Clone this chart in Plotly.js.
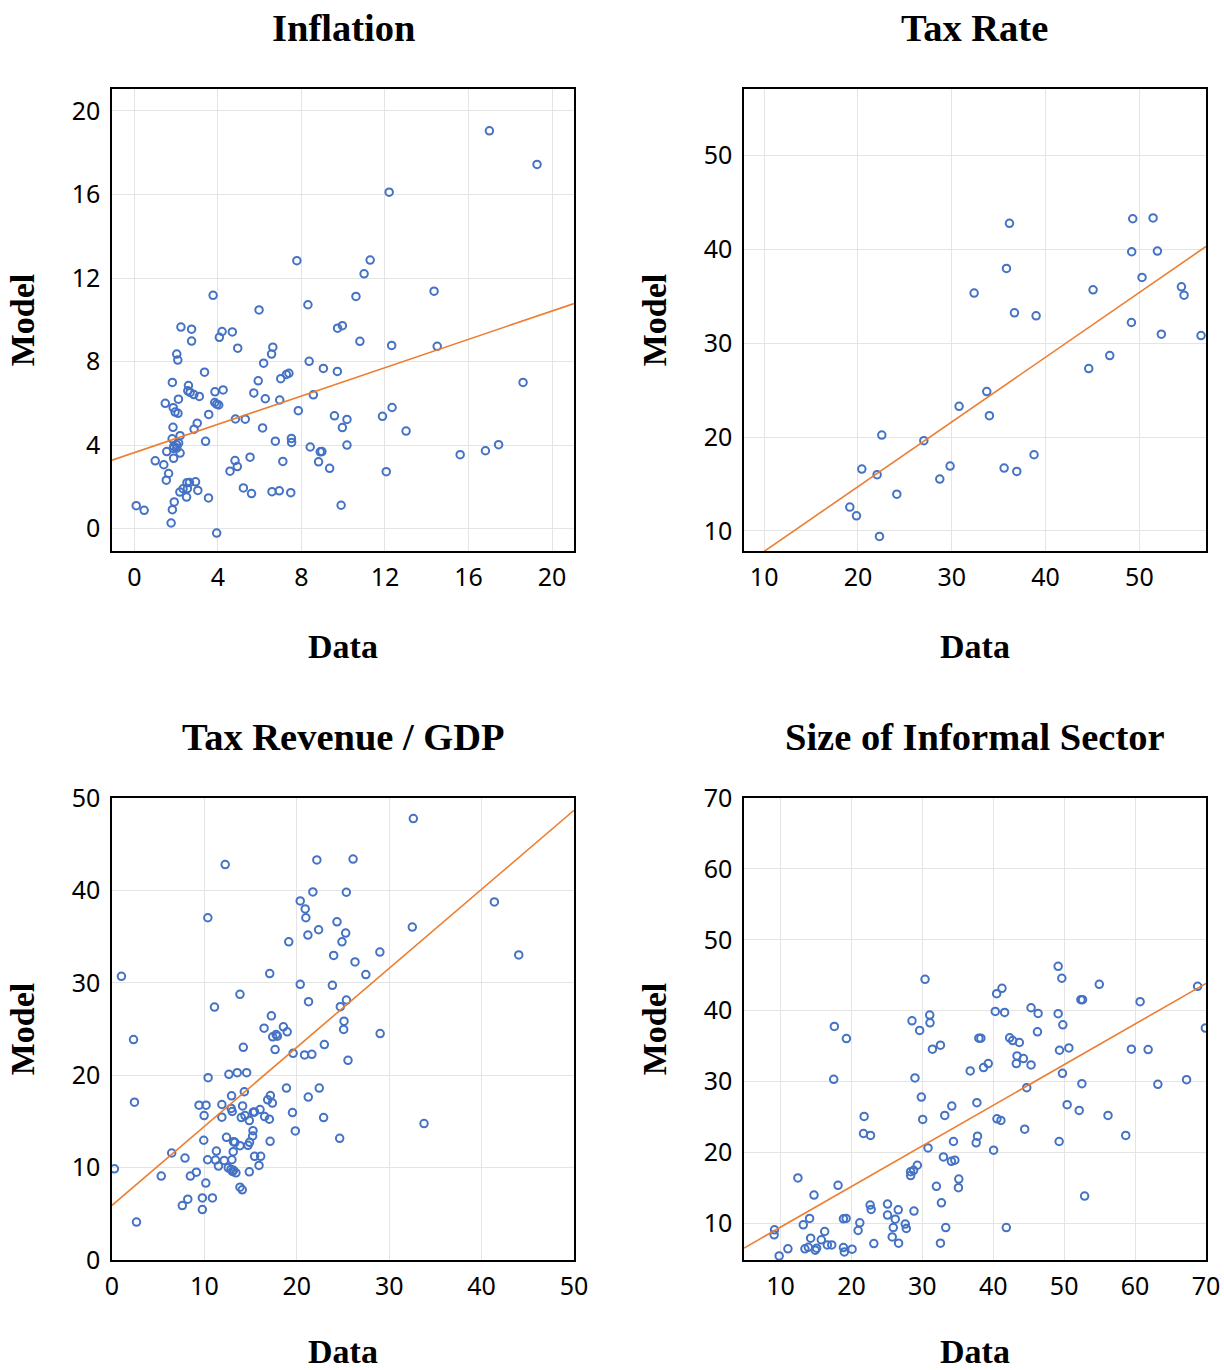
<!DOCTYPE html>
<html>
<head>
<meta charset="utf-8">
<script src="https://cdn.plot.ly/plotly-3.0.1.min.js"></script>
<style>html,body{margin:0;padding:0;background:#fff;}#chart{width:1224px;height:1370px;}</style>
</head>
<body>
<div id="chart"></div>
<script>
// ---------- DATA ----------
const panelTitles = ["Inflation", "Tax Rate", "Tax Revenue / GDP", "Size of Informal Sector"];
const xAxisTitle = "Data";
const yAxisTitle = "Model";

const inflationData = [0.09,0.47,1.0,1.41,1.48,1.53,1.55,1.64,1.76,1.82,1.91,1.82,1.86,1.95,2.09,1.85,1.81,1.89,2.02,2.12,1.88,2.19,2.19,1.87,2.03,2.03,2.08,2.23,2.11,2.59,2.56,2.67,2.85,3.11,2.74,2.74,3.36,2.86,3.01,3.41,3.56,3.86,4.25,3.85,3.94,4.04,4.07,4.20,4.69,4.95,3.77,5.97,4.84,5.31,4.82,4.93,4.58,5.54,5.22,5.61,3.55,2.52,2.64,2.93,3.04,2.33,2.18,2.50,2.54,5.72,5.93,6.19,6.57,6.63,6.27,6.14,6.96,7.01,7.28,7.40,6.75,7.52,7.53,7.11,6.59,6.94,7.49,7.78,8.31,7.85,8.37,8.57,9.05,9.72,8.42,8.90,8.98,8.82,9.35,9.58,9.73,9.96,9.96,10.18,10.18,9.90,10.80,10.61,11.0,11.29,12.20,11.88,12.34,12.32,13.01,12.06,14.35,14.50,15.60,16.81,17.44,17.0,19.28,18.61,3.94];
const inflationModel = [1.10,0.88,3.25,3.06,6.0,2.32,3.69,2.64,0.27,0.91,1.28,7.0,5.79,5.58,5.52,4.85,4.30,3.94,4.02,4.10,3.37,3.62,4.45,3.84,3.86,8.36,8.07,9.65,6.20,6.85,6.6,6.52,6.42,6.33,9.55,8.98,7.49,4.76,5.05,4.18,5.47,6.55,6.64,6.04,5.96,5.92,9.16,9.44,9.42,8.64,11.17,10.47,5.25,5.24,3.26,2.97,2.75,3.42,1.95,1.68,1.47,2.20,2.21,2.24,1.83,1.91,1.75,1.51,1.92,6.50,7.08,7.92,8.36,8.69,6.22,4.82,6.16,7.18,7.38,7.44,4.19,4.32,4.13,3.22,1.77,1.81,1.72,12.83,10.72,5.65,8.01,6.41,7.67,7.53,3.91,3.68,3.69,3.20,2.89,5.40,9.60,9.72,4.84,5.23,4.0,1.12,8.97,11.12,12.20,12.86,16.11,5.38,5.80,8.77,4.67,2.73,11.37,8.73,3.54,3.73,4.02,19.05,17.44,7.0,-0.21];

const taxRateData = [36.15,49.29,51.46,49.18,51.92,35.83,50.28,32.38,45.06,54.48,54.76,36.68,38.99,49.15,52.34,56.57,46.84,44.60,33.73,30.78,34.01,22.54,27.02,29.82,20.41,22.04,28.72,35.58,36.93,38.77,24.14,19.13,19.84,22.29];
const taxRateModel = [42.78,43.27,43.35,39.75,39.82,37.97,37.01,35.34,35.69,36.01,35.12,33.24,32.92,32.21,30.96,30.82,28.68,27.30,24.84,23.27,22.28,20.21,19.61,16.90,16.58,15.98,15.52,16.69,16.33,18.11,13.91,12.53,11.60,9.40];

const revenueData = [1.02,12.25,10.37,22.17,21.74,25.36,20.37,20.91,20.98,24.35,25.29,24.89,21.2,22.36,19.13,23.99,17.07,20.37,23.85,13.85,11.09,21.27,24.71,25.37,17.25,16.46,18.55,17.76,18.96,25.11,25.07,32.61,26.09,41.38,32.5,28.99,44.02,26.3,27.47,29.02,25.54,33.77,24.64,2.33,2.43,0.26,2.65,17.39,17.9,17.65,14.21,19.6,20.84,21.63,22.98,10.4,12.65,13.55,14.57,14.32,12.94,9.42,10.18,11.89,12.9,13.01,14.13,9.97,11.89,13.99,14.39,14.86,15.29,15.43,16.02,16.52,17.03,16.85,17.14,17.36,18.88,21.24,22.43,19.53,22.9,19.84,9.93,12.39,13.15,13.30,13.85,14.72,14.89,15.22,15.26,17.11,13.12,11.3,6.46,7.9,10.35,11.2,12.14,11.52,12.98,12.58,12.87,13.15,13.41,13.04,14.86,15.43,16.09,15.91,9.13,8.48,5.33,10.15,13.85,14.1,8.2,7.61,9.78,10.87,9.78];
const revenueModel = [30.7,42.8,37.04,43.3,39.84,39.8,38.86,37.99,37.04,36.6,35.38,34.43,35.16,35.74,34.43,32.96,31.0,29.84,29.73,28.75,27.37,27.96,27.41,28.13,26.43,25.09,25.24,24.40,24.7,25.85,24.95,47.77,43.39,38.75,36.03,33.32,33.02,32.26,30.89,24.5,21.61,14.76,13.17,23.86,17.08,9.87,4.11,24.15,24.22,22.77,23.02,22.37,22.19,22.26,23.32,19.73,20.09,20.27,20.27,18.21,17.77,16.76,16.76,16.83,16.4,16.07,16.68,15.63,15.46,15.41,15.63,15.09,16.0,16.03,16.28,15.52,15.24,17.34,17.8,16.98,18.61,17.63,18.61,15.96,15.41,13.97,12.96,13.28,12.80,12.74,12.37,12.41,12.74,13.42,14.0,12.85,11.72,11.79,11.58,11.03,10.85,10.82,10.78,10.16,10.85,9.98,9.8,9.7,9.43,9.59,9.54,11.22,11.22,10.24,9.51,9.08,9.08,8.32,7.88,7.59,6.58,5.89,6.72,6.72,5.46];

const informalData = [49.15,49.67,54.95,68.82,30.38,41.23,40.48,52.36,52.59,60.71,40.28,41.6,45.33,46.32,49.15,49.81,46.23,31.04,31.08,28.54,29.62,17.59,19.29,37.97,38.25,42.31,42.74,43.68,31.42,32.55,49.34,50.66,59.48,61.84,43.35,44.25,43.25,45.33,39.29,38.63,36.75,49.76,17.5,28.96,52.5,44.72,63.21,67.26,69.91,29.86,37.69,34.15,50.42,52.12,56.18,33.16,30.05,21.79,21.7,22.69,40.52,41.08,44.43,58.68,37.78,37.59,34.39,40.05,49.29,30.8,32.97,34.1,34.58,29.29,28.77,28.35,28.35,31.98,35.14,35.09,32.69,52.88,12.45,18.11,14.72,22.64,22.78,25.09,25.09,26.6,26.18,28.82,27.59,27.74,25.9,25.75,26.65,32.55,33.3,41.84,23.16,21.18,20.94,18.87,19.25,20.09,18.87,19.0,17.22,16.6,16.23,15.75,15.09,14.9,13.92,13.44,14.25,14.1,13.21,11.04,9.81,9.15,9.1];
const informalModel = [46.27,44.58,43.73,43.44,44.43,43.16,42.41,41.56,41.56,41.27,39.91,39.76,40.42,39.62,39.58,38.02,37.03,39.39,38.3,38.58,37.22,37.78,36.08,36.13,36.13,36.18,35.8,35.52,34.58,35.14,34.43,34.76,34.58,34.53,33.63,33.25,32.55,32.36,32.55,31.98,31.51,31.18,30.33,30.52,29.72,29.15,29.62,30.28,37.55,27.83,27.03,26.56,26.75,25.94,25.24,25.24,24.67,25.09,22.69,22.41,24.76,24.53,23.3,22.41,22.31,21.37,21.56,20.33,21.56,20.66,19.39,18.77,18.92,18.21,17.5,17.31,16.75,15.24,16.27,15.05,12.92,13.87,16.42,15.38,14.0,12.59,11.98,12.74,11.18,11.93,10.61,11.75,9.91,9.29,9.43,8.11,7.22,7.22,9.43,9.43,7.17,10.09,9.01,10.66,10.71,6.37,6.6,5.99,6.98,6.98,8.87,7.69,6.51,6.23,6.65,6.42,7.92,10.71,9.81,6.42,5.42,9.1,8.4];

// linear trend line parameters (Model = intercept + slope * Data)
const fitSlope = [0.339, 0.69, 0.855, 0.573];
const fitIntercept = [3.64, 0.91, 5.92, 3.75];

// axis ranges and tick steps
const axisRanges = [[-1.07, 21.05], [7.85, 57.1], [0, 50], [4.85, 70]];
const tickStart = [0, 10, 0, 10];
const tickStep = [4, 10, 10, 10];

// ---------- CHART ----------
const W = 1224, H = 1370;
const colLeft = [112, 744], colWidth = 462;
const rowTop = [89, 798], rowHeight = 462;
const pointColor = '#4472C4';
const lineColor = '#ED7D31';
const serif = '"Liberation Serif", "Times New Roman", serif';
const sans = '"Noto Sans", "Open Sans", sans-serif';

const xs = [inflationData, taxRateData, revenueData, informalData];
const ys = [inflationModel, taxRateModel, revenueModel, informalModel];

const traces = [];
const layout = {
  width: W, height: H,
  margin: {l: 0, r: 0, t: 0, b: 0},
  paper_bgcolor: '#fff', plot_bgcolor: '#fff',
  showlegend: false,
  annotations: []
};

for (let i = 0; i < 4; i++) {
  const col = i % 2, row = Math.floor(i / 2);
  const n = i + 1;
  const xa = 'x' + (n === 1 ? '' : n), ya = 'y' + (n === 1 ? '' : n);
  const xKey = 'xaxis' + (n === 1 ? '' : n), yKey = 'yaxis' + (n === 1 ? '' : n);
  const x0 = colLeft[col], y0 = rowTop[row];
  const r = axisRanges[i];

  traces.push({
    type: 'scatter', mode: 'markers', x: xs[i], y: ys[i], xaxis: xa, yaxis: ya,
    marker: {symbol: 'circle-open', size: 7.5, color: pointColor, line: {width: 2, color: pointColor}},
    cliponaxis: true, hoverinfo: 'x+y'
  });
  traces.push({
    type: 'scatter', mode: 'lines', x: [r[0], r[1]],
    y: [fitIntercept[i] + fitSlope[i] * r[0], fitIntercept[i] + fitSlope[i] * r[1]],
    xaxis: xa, yaxis: ya, line: {color: lineColor, width: 1.6}, hoverinfo: 'skip'
  });

  const common = {
    range: r, tickmode: 'linear', tick0: tickStart[i], dtick: tickStep[i],
    showgrid: true, gridcolor: '#E4E4E4', gridwidth: 1, zeroline: false,
    showline: true, mirror: true, linecolor: '#000', linewidth: 1.6,
    ticks: '', tickfont: {family: sans, size: 25, color: '#000'},
    fixedrange: true
  };
  layout[xKey] = Object.assign({}, common, {
    domain: [x0 / W, (x0 + colWidth) / W], anchor: ya,
    ticklabelstandoff: 3,
    title: {text: xAxisTitle, font: {family: serif, size: 34, color: '#000', weight: 'bold'}, standoff: 42}
  });
  layout[yKey] = Object.assign({}, common, {
    domain: [1 - (y0 + rowHeight) / H, 1 - y0 / H], anchor: xa,
    ticklabelstandoff: 5,
    title: {text: yAxisTitle, font: {family: serif, size: 34, color: '#000', weight: 'bold'}, standoff: 27}
  });

  layout.annotations.push({
    text: '<b>' + panelTitles[i] + '</b>', xref: 'paper', yref: 'paper',
    x: (x0 + colWidth / 2) / W, y: 1 - (y0 - 61) / H, xanchor: 'center', yanchor: 'middle',
    showarrow: false, font: {family: serif, size: 38.5, color: '#000'}
  });
}

Plotly.newPlot('chart', traces, layout, {displayModeBar: false, staticPlot: true});
</script>
</body>
</html>
